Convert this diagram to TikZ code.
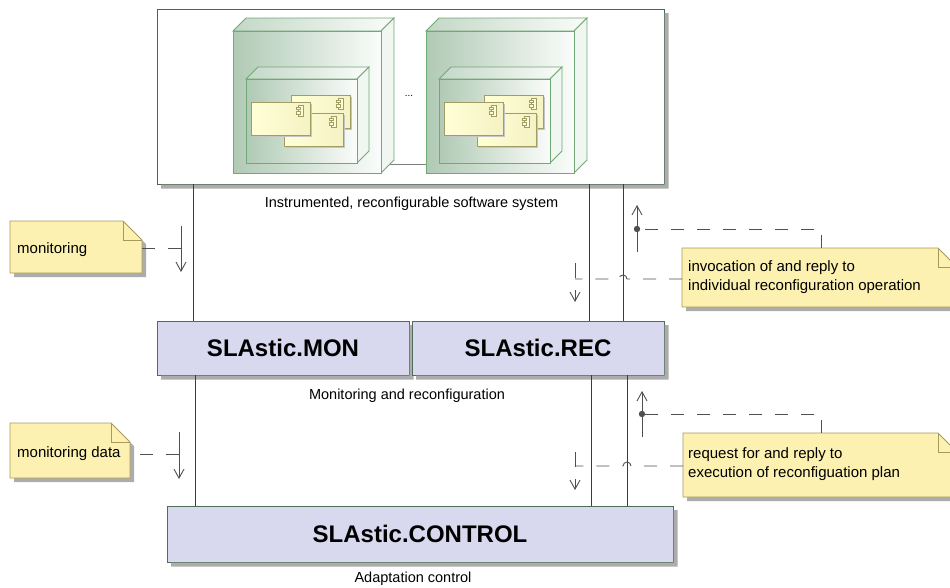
\documentclass[tikz,border=0pt]{standalone}
\usepackage{fontspec}
\setmainfont{Liberation Sans}
\usetikzlibrary{arrows.meta}
\definecolor{shadowG}{RGB}{172,172,172}
\definecolor{sysB}{RGB}{72,104,82}
\definecolor{boxF}{RGB}{216,216,238}
\definecolor{boxB}{RGB}{78,110,88}
\definecolor{noteF}{RGB}{252,241,176}
\definecolor{noteB}{RGB}{168,154,92}
\definecolor{nodeL}{RGB}{176,202,180}
\definecolor{nodeR}{RGB}{250,252,250}
\definecolor{nodeS}{RGB}{240,246,240}
\definecolor{nodeB}{RGB}{112,168,118}
\definecolor{compL}{RGB}{255,255,214}
\definecolor{compR}{RGB}{245,242,196}
\definecolor{compB}{RGB}{160,158,100}
\definecolor{lineC}{RGB}{60,60,60}
\definecolor{dashC}{RGB}{80,80,80}
\tikzset{
  bigbox/.style={draw=boxB, fill=boxF, line width=0.9pt, inner sep=0pt,
    font=\fontsize{24}{28}\selectfont\bfseries},
  sysbox/.style={draw=sysB, fill=white, line width=0.9pt, inner sep=0pt},
  captext/.style={font=\fontsize{14.5}{17}\selectfont, inner sep=0pt},
  notetext/.style={font=\fontsize{15}{19}\selectfont, inner sep=0pt, align=left},
  conn/.style={draw=lineC, line width=0.9pt},
  dashline/.style={draw=dashC, line width=0.9pt, dash pattern=on 13pt off 13pt},
  msgarrow/.style={draw=dashC, line width=0.9pt, -{Straight Barb[length=9pt,width=10pt]}},
  dotmark/.style={fill=dashC},
}
\newcommand\devnode[5]{% x0,y0,w,h,d
  \filldraw[draw=nodeB, line width=0.8pt, left color=nodeL!75!white, right color=nodeR]
    (#1,#2) -- ({#1+#5},{#2-#5}) -- ({#1+#3+#5},{#2-#5}) -- ({#1+#3},#2) -- cycle;
  \filldraw[draw=nodeB, line width=0.8pt, fill=nodeS]
    ({#1+#3},#2) -- ({#1+#3+#5},{#2-#5}) -- ({#1+#3+#5},{#2+#4-#5}) -- ({#1+#3},{#2+#4}) -- cycle;
  \filldraw[draw=nodeB, line width=0.8pt, left color=nodeL, right color=nodeR]
    (#1,#2) rectangle ({#1+#3},{#2+#4});
}
\newcommand\compbox[2]{% x0,y0 ; size 59x33
  \fill[shadowG!70] ({#1+2},{#2+2}) -- ({#1+61},{#2+2}) -- ({#1+61},{#2+35}) -- ({#1+2},{#2+35}) -- cycle;
  \filldraw[draw=compB, line width=0.7pt, left color=compL, right color=compR]
    (#1,#2) rectangle ({#1+59},{#2+33});
  \filldraw[draw=compB, line width=0.6pt, fill=compL] ({#1+47},{#2+3}) rectangle ({#1+52},{#2+14});
  \filldraw[draw=compB, line width=0.6pt, fill=compL] ({#1+45},{#2+5}) rectangle ({#1+49},{#2+7.5});
  \filldraw[draw=compB, line width=0.6pt, fill=compL] ({#1+45},{#2+9.5}) rectangle ({#1+49},{#2+12});
}
\newcommand\notebox[4]{% x0,y0,x1,y1
  \fill[shadowG] ({#1+4},{#2+4}) -- ({#3+4-19},{#2+4}) -- ({#3+4},{#2+23}) -- ({#3+4},{#4+4}) -- ({#1+4},{#4+4}) -- cycle;
  \filldraw[draw=noteB, fill=noteF, line width=0.8pt] (#1,#2) -- ({#3-19},#2) -- (#3,{#2+19}) -- (#3,#4) -- (#1,#4) -- cycle;
  \draw[noteB, line width=0.8pt] ({#3-19},#2) -- ({#3-19},{#2+19}) -- (#3,{#2+19});
}
% L-shaped shadow strip outside a box x0,y0,x1,y1 (picture coordinates)
\newcommand\shadestrip[4]{%
  \fill[shadowG] ({#3+0.5},{#2+4}) -- ({#3+4.5},{#2+4}) -- ({#3+4.5},{#4+4.5}) -- ({#1+4},{#4+4.5}) -- ({#1+4},{#4+0.5}) -- ({#3+0.5},{#4+0.5}) -- cycle;
}
\begin{document}
\begin{tikzpicture}[x=1pt,y=-1pt]
\useasboundingbox (0,0) rectangle (950,587);

% top system box
\node[sysbox, minimum width=507pt, minimum height=175pt] (sys) at (410.5,96.5) {};
\shadestrip{157}{9}{664}{184}
\devnode{233}{31}{148}{142}{13}
\devnode{246}{79}{111}{84}{12}
\compbox{291}{95}
\compbox{284}{113}
\compbox{251}{102}
\devnode{426}{31}{148}{142}{13}
\devnode{439}{79}{111}{84}{12}
\compbox{484}{95}
\compbox{477}{113}
\compbox{444}{102}
\coordinate (lnA) at (390,164);
\coordinate (lnB) at (426,164);
\draw[draw=gray, line width=0.9pt] (lnA) -- (lnB);
\node[font=\fontsize{10}{12}\selectfont, inner sep=0pt] (dots) at (409,96) {...};
\node[captext] (syscap) at (411.5,204) {Instrumented, reconfigurable software system};

% middle boxes
\node[bigbox, minimum width=252pt, minimum height=54pt] (mon) at (283,348) {SLAstic.MON};
\shadestrip{157}{321}{409}{375}
\node[bigbox, minimum width=252pt, minimum height=54pt] (rec) at (538,348) {SLAstic.REC};
\shadestrip{412}{321}{664}{375}
\node[captext] (midcap) at (407,396) {Monitoring and reconfiguration};

% bottom box
\node[bigbox, minimum width=506pt, minimum height=56pt] (ctl) at (420,534) {SLAstic.CONTROL};
\shadestrip{167}{506}{673}{562}
\node[captext] (botcap) at (413,579) {Adaptation control};

% connectors
\draw[conn] (193,0 |- sys.south) -- (193,0 |- mon.north);
\draw[conn] (589,0 |- sys.south) -- (589,0 |- rec.north);
\draw[conn] (623,0 |- sys.south) -- (623,0 |- rec.north);
\draw[conn] (195,0 |- mon.south) -- (195,0 |- ctl.north);
\draw[conn] (591,0 |- rec.south) -- (591,0 |- ctl.north);
\draw[conn] (627,0 |- rec.south) -- (627,0 |- ctl.north);

% notes
\notebox{10}{221}{142}{273}
\node[notetext, anchor=west] (n1) at (17,250) {monitoring};
\notebox{10}{423}{130}{478}
\node[notetext, anchor=west] (n2) at (17,454) {monitoring data};
\notebox{682}{248}{957}{307}
\node[notetext, anchor=west] (n3) at (688,277) {invocation of and reply to\\individual reconfiguration operation};
\notebox{683}{433}{957}{497}
\node[notetext, anchor=west] (n4) at (688,464) {request for and reply to\\execution of reconfiguation plan};

% message: monitoring
\coordinate (m1s) at (181,226); \coordinate (m1t) at (181,272);
\coordinate (m1j) at (181,248); \coordinate (m1e) at (142,248);
\draw[msgarrow] (m1s) -- (m1t);
\draw[dashline] (m1j) -- (m1e);

% message: monitoring data
\coordinate (m2s) at (179,432); \coordinate (m2t) at (179,479);
\coordinate (m2j) at (179,454); \coordinate (m2e) at (130,454);
\draw[msgarrow] (m2s) -- (m2t);
\draw[dashline] (m2j) -- (m2e);

% message: invocation (upper right)
\coordinate (u1s) at (637,252); \coordinate (u1t) at (637,205);
\coordinate (u1d) at (637,229); \coordinate (u1n) at (821,248);
\draw[msgarrow] (u1s) -- (u1t);
\draw[dashline] (u1n) |- (u1d);
\fill[dotmark] (u1d) circle[radius=3.2pt];
\coordinate (d1s) at (575,263); \coordinate (d1t) at (575,302);
\coordinate (d1n) at (682,279); \coordinate (d1h) at (627,279); \coordinate (d1j) at (575,279);
\draw[msgarrow, dash pattern=on 15pt off 12pt] (d1s) -- (d1t);
\draw[dashline] (d1n) -- (d1h) arc[start angle=0, end angle=180, radius=4pt] -- (d1j);

% message: request (lower right)
\coordinate (u2s) at (642,437); \coordinate (u2t) at (642,391);
\coordinate (u2d) at (642,414); \coordinate (u2n) at (821,433);
\draw[msgarrow] (u2s) -- (u2t);
\draw[dashline] (u2n) |- (u2d);
\fill[dotmark] (u2d) circle[radius=3.2pt];
\coordinate (d2s) at (575,452); \coordinate (d2t) at (575,490);
\coordinate (d2n) at (683,466); \coordinate (d2h) at (631,466); \coordinate (d2j) at (575,466);
\draw[msgarrow, dash pattern=on 15pt off 12pt] (d2s) -- (d2t);
\draw[dashline] (d2n) -- (d2h) arc[start angle=0, end angle=180, radius=4pt] -- (d2j);
\end{tikzpicture}
\end{document}
